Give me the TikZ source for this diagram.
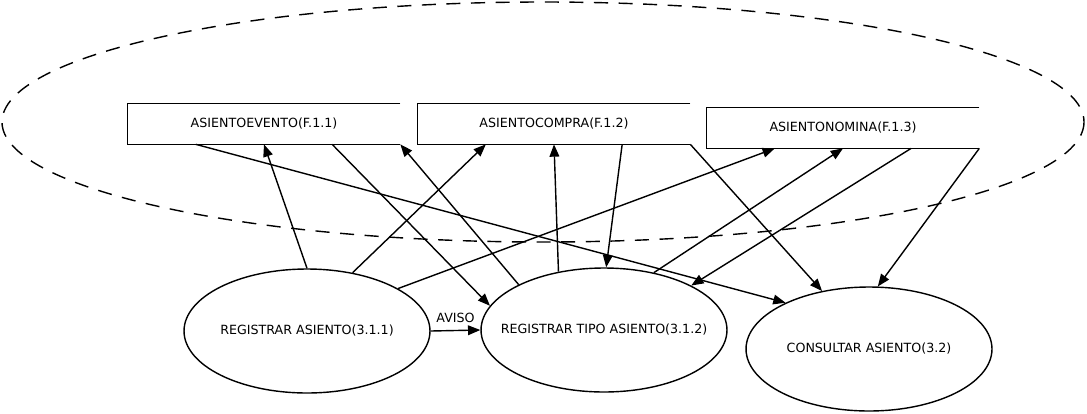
\documentclass[tikz,border=0pt]{standalone}
\usepackage{fontspec}
\setmainfont{DejaVu Sans}
\usetikzlibrary{shapes.geometric,arrows.meta,calc}
\tikzset{
    proceso/.style={draw,ellipse,line width=0.8pt,minimum width=4.92cm,minimum height=2.48cm,inner xsep=-15pt,inner ysep=0pt,font=\fontsize{7.2}{8}\selectfont},
    almacen/.style={minimum width=5.44cm,minimum height=0.8cm,inner sep=0pt,font=\fontsize{7.2}{8}\selectfont},
    flujo/.style={-{Triangle[length=7pt,width=5.5pt]},line width=0.8pt},
    borde/.style={line width=0.8pt},
}
\begin{document}
\begin{tikzpicture}[x=0.02cm,y=-0.02cm]
    \useasboundingbox (0,0) rectangle (1087,413);
    \draw[dash pattern=on 8pt off 6pt,line width=0.8pt] (543,122) ellipse [x radius=541,y radius=120];
    % almacenes
    \node[almacen] (s1) at (264,124) {ASIENTOEVENTO(F.1.1)};
    \node[almacen] (s2) at (554,124) {ASIENTOCOMPRA(F.1.2)};
    \node[almacen] (s3) at (843,128) {ASIENTONOMINA(F.1.3)};
    \foreach \s in {s1,s2,s3} {
        \draw[borde] (\s.north east) -- (\s.north west) -- (\s.south west) -- (\s.south east);
        \coordinate (\s-a) at ($(\s.south west)!.25!(\s.south east)$);
        \coordinate (\s-c) at ($(\s.south west)!.75!(\s.south east)$);
    }
    % procesos
    \node[proceso] (e1) at (307,331) {REGISTRAR ASIENTO(3.1.1)};
    \node[proceso] (e2) at (604,330) {REGISTRAR TIPO ASIENTO(3.1.2)};
    \node[proceso] (e3) at (869,349) {CONSULTAR ASIENTO(3.2)};
    % flujos
    \draw[flujo] (e1.90) -- (s1.south);
    \draw[flujo] (e1.52) -- (s2-a);
    \draw[flujo] (e1.25) -- (s3-a);
    \draw[flujo] (s1-a) -- (e3.151);
    \draw[flujo] (s1-c) -- (e2.168);
    \draw[flujo] (e2.152) -- (s1.south east);
    \draw[flujo] (e2.128) -- (s2.south);
    \draw[flujo] (s2-c) -- (e2.88);
    \draw[flujo] (s2.south east) -- (e3.129);
    \draw[flujo] (e2.49) -- (s3.south);
    \draw[flujo] (s3-c) -- (e2.27);
    \draw[flujo] (s3.south east) -- (e3.82);
    \draw[flujo] (e1.east) -- node[above=1pt,font=\fontsize{7.2}{8}\selectfont] {AVISO} (e2.west);
\end{tikzpicture}
\end{document}
